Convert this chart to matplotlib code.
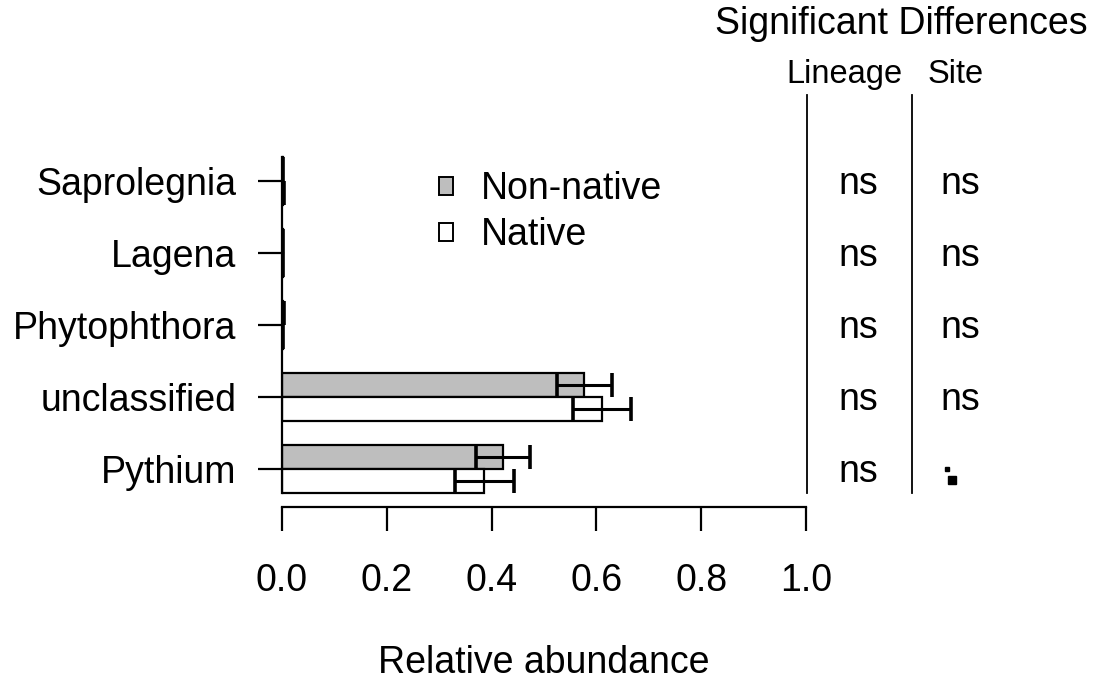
import matplotlib
matplotlib.use("Agg")
import matplotlib.pyplot as plt
import numpy as np

plt.rcParams['font.family'] = ['Liberation Sans', 'DejaVu Sans']

# genera, bottom to top
genera = ["Pythium", "unclassified", "Phytophthora", "Lagena", "Saprolegnia"]
nonnative_mean = [0.422, 0.577, 0.002, 0.001, 0.001]
nonnative_se = [0.052, 0.053, 0.001, 0.001, 0.001]
native_mean = [0.386, 0.611, 0.001, 0.001, 0.002]
native_se = [0.056, 0.055, 0.001, 0.001, 0.001]
lineage_sig = ["ns", "ns", "ns", "ns", "ns"]
site_sig = [".", "ns", "ns", "ns", "ns"]

W, H = 1102, 688
fig = plt.figure(figsize=(W / 100, H / 100), dpi=100)

# axes: x=0 at px 282, x=1 at px 806; y unit = 24 px, y=0 at px 493
x0, xs = 282, 524
y0, ys = 493, 24
ax_bottom_px, ax_top_px = 507, 0
ax = fig.add_axes([x0 / W, (H - ax_bottom_px) / H, (W - x0) / W, (ax_bottom_px - ax_top_px) / H])
ax.set_xlim(0, (W - x0) / xs)
ax.set_ylim((y0 - ax_bottom_px) / ys, (y0 - ax_top_px) / ys)
for s in ax.spines.values():
    s.set_visible(False)

FS = 27
FS_SUB = 23.5
lw = 1.6
n = len(genera)
centers = np.arange(n) * 3 + 1
ax.barh(centers + 0.5, nonnative_mean, height=1, color="#bebebe", edgecolor="black", linewidth=lw)
ax.barh(centers - 0.5, native_mean, height=1, color="white", edgecolor="black", linewidth=lw)
ax.errorbar(nonnative_mean, centers + 0.5, xerr=nonnative_se, fmt="none", ecolor="black",
            elinewidth=2.2, capsize=8.5, capthick=2.6)
ax.errorbar(native_mean, centers - 0.5, xerr=native_se, fmt="none", ecolor="black",
            elinewidth=2.2, capsize=8.5, capthick=2.6)

# baseline at zero
ax.plot([0, 0], [0, n * 3 - 1], color="black", lw=lw, clip_on=False)

# x axis
ticks = [0.0, 0.2, 0.4, 0.6, 0.8, 1.0]
ax.plot([0, 1], [(y0 - ax_bottom_px) / ys] * 2, color="black", lw=lw, clip_on=False)
ax.set_xticks(ticks)
ax.set_xticklabels([f"{t:.1f}" for t in ticks], fontsize=FS)
ax.tick_params(axis="x", length=17, width=lw, pad=23)

# y axis ticks drawn to the left
ax.set_yticks(centers)
ax.set_yticklabels(genera, fontsize=FS)
ax.tick_params(axis="y", length=17, width=lw, pad=16)

fig.text(544 / W, 1 - 673 / H, "Relative abundance", fontsize=FS, ha="center", va="baseline")

# legend
ax.legend(handles=[plt.Rectangle((0, 0), 1, 1, fc="#bebebe", ec="black", lw=1.4),
                   plt.Rectangle((0, 0), 1, 1, fc="white", ec="black", lw=1.4)],
          labels=["Non-native", "Native"], fontsize=FS, frameon=False,
          loc="upper left", bbox_to_anchor=((439 - x0) / (W - x0), 1 - 171 / ax_bottom_px),
          handlelength=0.36, handleheight=0.36, handletextpad=0.75, labelspacing=0.27,
          borderaxespad=0, borderpad=0)

# significance columns
col1_x, col2_x = (858 - x0) / xs, (960 - x0) / xs
sep1, sep2 = (807 - x0) / xs, (912 - x0) / xs
top_y = (y0 - 95) / ys
for sx in (sep1, sep2):
    ax.plot([sx, sx], [0, top_y], color="black", lw=1.3, clip_on=False)
for c, a, b in zip(centers, lineage_sig, site_sig):
    ax.text(col1_x, c - 13 / ys, a, fontsize=FS, ha="center", va="baseline")
    if b == ".":
        ax.plot([(947 - x0) / xs], [c], marker="s", ms=2.5, color="black", ls="none")
        ax.plot([(952 - x0) / xs], [c - 0.45], marker="s", ms=6, color="black", ls="none")
    else:
        ax.text(col2_x, c - 13 / ys, b, fontsize=FS, ha="center", va="baseline")

fig.text(901 / W, 1 - 34 / H, "Significant Differences", fontsize=FS, ha="center", va="baseline")
fig.text(844 / W, 1 - 83 / H, "Lineage", fontsize=FS_SUB, ha="center", va="baseline")
fig.text(956 / W, 1 - 83 / H, "Site", fontsize=FS_SUB, ha="center", va="baseline")

fig.savefig("out.png", dpi=100, facecolor="white")
